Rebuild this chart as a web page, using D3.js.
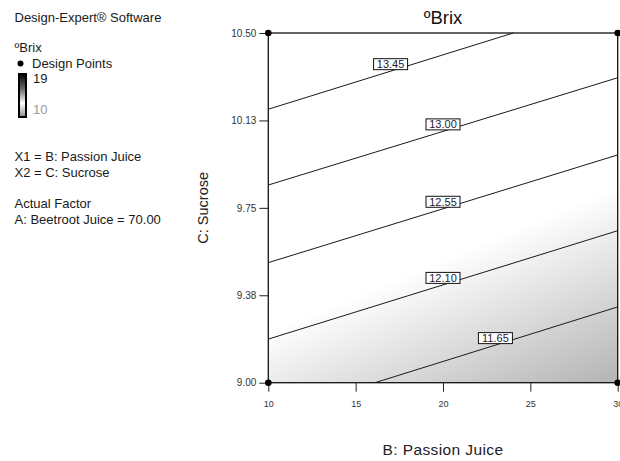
<!DOCTYPE html>
<html>
<head>
<meta charset="utf-8">
<script src="https://cdn.jsdelivr.net/npm/d3@7"></script>
<style>
  html, body { margin: 0; padding: 0; background: #fff; }
  svg { display: block; font-family: "Liberation Sans", Arial, sans-serif; }
</style>
</head>
<body>
<svg id="chart" width="620" height="461"></svg>
<script>
// ---- data ----
const xDomain = [10, 30];               // B: Passion Juice
const yDomain = [9.0, 10.5];            // C: Sucrose
const xTickValues = [10, 15, 20, 25, 30];
const xTickLabels = ["10", "15", "20", "25", "30"];
const yTickValues = [9.0, 9.375, 9.75, 10.125, 10.5];
const yTickLabels = ["9.00", "9.38", "9.75", "10.13", "10.50"];

// contour levels and their end points [x1, y1, x2, y2] in data units
const contourLevels = ["13.45", "13.00", "12.55", "12.10", "11.65"];
const contourStart = [[10, 10.173], [10, 9.848], [10, 9.515], [10, 9.187], [16.11, 9.0]];
const contourEnd   = [[24.02, 10.5], [30, 10.308], [30, 9.977], [30, 9.652], [30, 9.325]];
const labelAtX     = [17.0, 20.0, 20.0, 20.0, 23.0];

// design points (corners of the design space)
const designX = [10, 30, 10, 30];
const designY = [10.5, 10.5, 9.0, 9.0];

// shading of the response surface: light -> dark, in data coordinates
const shadeFrom = [26.0, 9.72];
const shadeTo   = [30.0, 9.0];
const shadeColors = ["#ffffff", "#b4b4b4"];

// ---- drawing ----
const svg = d3.select("#chart");
const L = 268.3, R = 617.7, T = 33, B = 382.7;
const x = d3.scaleLinear().domain(xDomain).range([L, R]);
const y = d3.scaleLinear().domain(yDomain).range([B, T]);

const defs = svg.append("defs");
const g1 = defs.append("linearGradient").attr("id", "shade")
  .attr("gradientUnits", "userSpaceOnUse")
  .attr("x1", x(shadeFrom[0])).attr("y1", y(shadeFrom[1]))
  .attr("x2", x(shadeTo[0])).attr("y2", y(shadeTo[1]));
g1.append("stop").attr("offset", "0%").attr("stop-color", shadeColors[0]);
g1.append("stop").attr("offset", "100%").attr("stop-color", shadeColors[1]);

const g2 = defs.append("linearGradient").attr("id", "legendbar")
  .attr("x1", 0).attr("y1", 0).attr("x2", 0).attr("y2", 1);
[["0%", "#000"], ["35%", "#6a6a6a"], ["68%", "#ffffff"], ["100%", "#8a8a8a"]]
  .forEach(s => g2.append("stop").attr("offset", s[0]).attr("stop-color", s[1]));

// plot background
svg.append("rect")
  .attr("x", x(xDomain[0])).attr("y", y(yDomain[1]))
  .attr("width", x(xDomain[1]) - x(xDomain[0]))
  .attr("height", y(yDomain[0]) - y(yDomain[1]))
  .attr("fill", "url(#shade)");

// contour lines
const cg = svg.append("g");
contourLevels.forEach((lev, i) => {
  cg.append("line")
    .attr("x1", x(contourStart[i][0])).attr("y1", y(contourStart[i][1]))
    .attr("x2", x(contourEnd[i][0])).attr("y2", y(contourEnd[i][1]))
    .attr("stroke", "#1a1a1a").attr("stroke-width", 1);
});

// contour labels
contourLevels.forEach((lev, i) => {
  const lx = labelAtX[i];
  const t = (lx - contourStart[i][0]) / (contourEnd[i][0] - contourStart[i][0]);
  const ly = contourStart[i][1] + t * (contourEnd[i][1] - contourStart[i][1]);
  const cx = x(lx), cy = y(ly) - 7;
  cg.append("rect")
    .attr("x", cx - 17).attr("y", cy - 5.5)
    .attr("width", 34).attr("height", 11)
    .attr("fill", "#fff").attr("stroke", "#111").attr("stroke-width", 1);
  cg.append("text")
    .attr("x", cx).attr("y", cy + 4)
    .attr("text-anchor", "middle")
    .attr("font-size", 11).attr("fill", "#223")
    .text(lev);
});

// plot frame
svg.append("rect")
  .attr("x", x(xDomain[0])).attr("y", y(yDomain[1]))
  .attr("width", x(xDomain[1]) - x(xDomain[0]))
  .attr("height", y(yDomain[0]) - y(yDomain[1]))
  .attr("fill", "none").attr("stroke", "#111").attr("stroke-width", 1.3);

// axes
const xAxis = d3.axisBottom(x).tickValues(xTickValues)
  .tickFormat((d, i) => xTickLabels[i]).tickSize(9).tickPadding(9).tickSizeOuter(0);
const yAxis = d3.axisLeft(y).tickValues(yTickValues)
  .tickFormat((d, i) => yTickLabels[i]).tickSize(9).tickPadding(3).tickSizeOuter(0);

const gx = svg.append("g").attr("transform", `translate(0,${B})`).call(xAxis);
const gy = svg.append("g").attr("transform", `translate(${L},0)`).call(yAxis);
[gx, gy].forEach(g => {
  g.select(".domain").remove();
  g.selectAll(".tick line").attr("stroke", "#222").attr("stroke-width", 1);
  g.selectAll(".tick text").attr("fill", "#333")
    .style("font-family", "'Liberation Sans', Arial, sans-serif");
});
gx.selectAll(".tick text").attr("font-size", 9);
gy.selectAll(".tick text").attr("font-size", 10);

// design points
svg.append("g").selectAll("circle")
  .data(designX.map((d, i) => [d, designY[i]]))
  .join("circle")
  .attr("cx", d => x(d[0])).attr("cy", d => y(d[1]))
  .attr("r", 3.3).attr("fill", "#000");

// titles
svg.append("text").attr("x", (L + R) / 2).attr("y", 24.3)
  .attr("text-anchor", "middle").attr("font-size", 18.5).attr("fill", "#111")
  .text("ºBrix");
svg.append("text").attr("x", (L + R) / 2).attr("y", 455)
  .attr("text-anchor", "middle").attr("font-size", 15.5).attr("fill", "#222")
  .attr("letter-spacing", 0.4)
  .text("B: Passion Juice");
svg.append("text")
  .attr("transform", `translate(208.3,${(T + B) / 2}) rotate(-90)`)
  .attr("text-anchor", "middle").attr("font-size", 14.5).attr("fill", "#222")
  .text("C: Sucrose");

// left side info panel
const info = [
  ["Design-Expert® Software", 21.7],
  ["ºBrix", 52.3],
  ["X1 = B: Passion Juice", 161],
  ["X2 = C: Sucrose", 176.7],
  ["Actual Factor", 208.3],
  ["A: Beetroot Juice = 70.00", 224]
];
info.forEach(d => {
  svg.append("text").attr("x", 14.5).attr("y", d[1])
    .attr("font-size", 13).attr("fill", "#1a1a1a").text(d[0]);
});
svg.append("circle").attr("cx", 20.5).attr("cy", 63.5).attr("r", 3).attr("fill", "#000");
svg.append("text").attr("x", 32).attr("y", 67.7)
  .attr("font-size", 13).attr("fill", "#1a1a1a").text("Design Points");
svg.append("rect").attr("x", 19).attr("y", 74).attr("width", 7).attr("height", 43)
  .attr("fill", "url(#legendbar)").attr("stroke", "#000").attr("stroke-width", 2);
svg.append("text").attr("x", 33).attr("y", 83.3)
  .attr("font-size", 13).attr("fill", "#1a1a1a").text("19");
svg.append("text").attr("x", 33).attr("y", 114)
  .attr("font-size", 13).attr("fill", "#9a9a9a").text("10");
</script>
</body>
</html>
